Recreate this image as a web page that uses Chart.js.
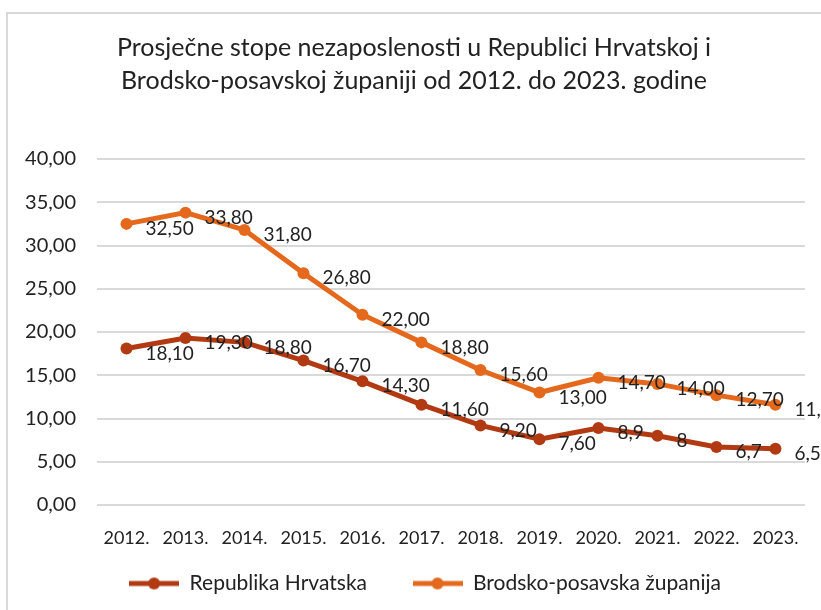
<!DOCTYPE html>
<html>
<head>
<meta charset="utf-8">
<script src="https://cdn.jsdelivr.net/npm/chart.js@4"></script>
<style>
  html, body { margin: 0; padding: 0; background: #fff; overflow: hidden; }
  #wrap { position: relative; width: 821px; height: 610px; }
  #frame { position: absolute; left: 6px; top: 12px; width: 900px; height: 700px; border: 2px solid #d9d9d9; box-sizing: border-box; }
  #c { position: absolute; left: 0; top: 0; }
</style>
</head>
<body>
<div id="wrap">
  <div id="frame"></div>
  <canvas id="c" width="821" height="610"></canvas>
</div>
<script>
const titleLines = ['Prosječne stope nezaposlenosti u Republici Hrvatskoj i', 'Brodsko-posavskoj županiji od 2012. do 2023. godine'];
const years = ['2012.', '2013.', '2014.', '2015.', '2016.', '2017.', '2018.', '2019.', '2020.', '2021.', '2022.', '2023.'];
const seriesNames = ['Republika Hrvatska', 'Brodsko-posavska županija'];
const hrvatska = [18.1, 19.3, 18.8, 16.7, 14.3, 11.6, 9.2, 7.6, 8.9, 8.0, 6.7, 6.5];
const hrvatskaLabels = ['18,10', '19,30', '18,80', '16,70', '14,30', '11,60', '9,20', '7,60', '8,9', '8', '6,7', '6,5'];
const brodsko = [32.5, 33.8, 31.8, 26.8, 22.0, 18.8, 15.6, 13.0, 14.7, 14.0, 12.7, 11.6];
const brodskoLabels = ['32,50', '33,80', '31,80', '26,80', '22,00', '18,80', '15,60', '13,00', '14,70', '14,00', '12,70', '11,60'];
const yTicks = [0, 5, 10, 15, 20, 25, 30, 35, 40];

const FONT = 'Lato, "Open Sans", sans-serif';
const TEXT = '#222222';
const colors = ['#B23A12', '#E4691C'];

function legendIcon(color) {
  const cv = document.createElement('canvas');
  cv.width = 50; cv.height = 14;
  const g = cv.getContext('2d');
  g.strokeStyle = color; g.lineWidth = 5; g.lineCap = 'butt';
  g.beginPath(); g.moveTo(0, 7); g.lineTo(50, 7); g.stroke();
  g.fillStyle = color; g.beginPath(); g.arc(25, 7, 6, 0, Math.PI * 2); g.fill();
  return cv;
}

const valueLabels = {
  id: 'valueLabels',
  afterDatasetsDraw(chart) {
    const ctx = chart.ctx;
    ctx.save();
    ctx.font = '19px ' + FONT;
    ctx.fillStyle = TEXT;
    ctx.textAlign = 'left';
    ctx.textBaseline = 'middle';
    chart.data.datasets.forEach((ds, i) => {
      const meta = chart.getDatasetMeta(i);
      meta.data.forEach((pt, j) => {
        ctx.fillText(ds.valueText[j], pt.x + 19, pt.y + 5);
      });
    });
    ctx.restore();
  }
};

const blockShift = {
  id: 'blockShift',
  afterLayout(chart) {
    if (chart.legend) { chart.legend.left += 21; chart.legend.right += 21; }
    if (chart.titleBlock) { chart.titleBlock.left += 10; chart.titleBlock.right += 10; }
  }
};

new Chart(document.getElementById('c'), {
  type: 'line',
  data: {
    labels: years,
    datasets: [
      { label: seriesNames[0], data: hrvatska, valueText: hrvatskaLabels, borderColor: colors[0], backgroundColor: colors[0],
        borderWidth: 5, pointRadius: 6, pointHoverRadius: 6, pointStyle: 'circle', tension: 0, pointBackgroundColor: colors[0], pointBorderWidth: 0 },
      { label: seriesNames[1], data: brodsko, valueText: brodskoLabels, borderColor: colors[1], backgroundColor: colors[1],
        borderWidth: 5, pointRadius: 6, pointHoverRadius: 6, pointStyle: 'circle', tension: 0, pointBackgroundColor: colors[1], pointBorderWidth: 0 }
    ]
  },
  options: {
    responsive: false,
    animation: false,
    layout: { padding: { left: 0, right: 13, top: 0, bottom: 6 } },
    plugins: {
      title: {
        display: true,
        text: titleLines,
        color: TEXT,
        font: { family: FONT, size: 25, weight: 'normal', lineHeight: 1.32 },
        padding: { top: 31, bottom: 62 }
      },
      legend: {
        position: 'bottom',
        labels: {
          usePointStyle: true,
          pointStyleWidth: 50,
          color: TEXT,
          font: { family: FONT, size: 21 },
          padding: 24,
          generateLabels(chart) {
            return chart.data.datasets.map((ds, i) => ({
              text: i === 0 ? ds.label + '\u00A0\u00A0\u00A0\u00A0' : ds.label,
              pointStyle: legendIcon(colors[i]),
              fillStyle: colors[i],
              strokeStyle: colors[i],
              lineWidth: 0,
              hidden: false,
              datasetIndex: i,
              fontColor: TEXT
            }));
          }
        }
      },
      tooltip: { enabled: false }
    },
    scales: {
      x: {
        offset: true,
        afterFit(scale) { scale.height = 44; },
        grid: { display: false, drawTicks: false },
        border: { display: false },
        ticks: { color: TEXT, font: { family: FONT, size: 18 }, padding: 22, maxRotation: 0 }
      },
      y: {
        min: 0, max: 40,
        afterBuildTicks(scale) { scale.ticks = yTicks.map(v => ({ value: v })); },
        afterFit(scale) { scale.width = 97; },
        grid: { color: '#d9d9d9', lineWidth: 2, drawTicks: false },
        border: { display: false },
        ticks: {
          color: TEXT, font: { family: FONT, size: 20 }, padding: 21,
          callback: v => v.toFixed(2).replace('.', ',')
        }
      }
    }
  },
  plugins: [valueLabels, blockShift]
});
</script>
</body>
</html>
